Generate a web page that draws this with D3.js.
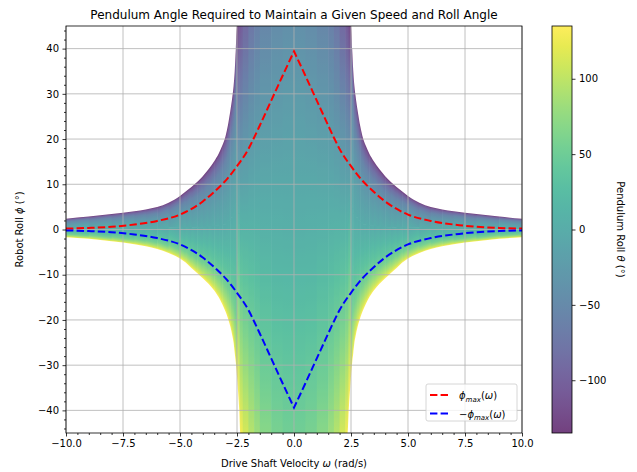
<!DOCTYPE html>
<html>
<head>
<meta charset="utf-8">
<script src="https://cdn.jsdelivr.net/npm/d3@7"></script>
<style>
  body { margin: 0; background: #fff; }
  svg text { font-family: "DejaVu Sans", sans-serif; fill: #000; }
</style>
</head>
<body>
<div class="visual"></div>
<script>
// heatmap columns, read for omega >= 0 (the figure is mirror symmetric in omega)
const omegaCols = [0, 0.5, 1, 1.5, 1.75, 2, 2.25, 2.35, 2.4, 2.45,
  2.5, 2.55, 2.6, 2.65, 2.7, 2.8, 2.9, 3.0, 3.15, 3.3, 3.5, 3.75,
  4, 4.25, 4.5, 4.75, 5, 5.5, 6, 6.5, 7, 8, 9, 10];
// top and bottom of the coloured span (deg of robot roll)
const spanHigh = [45, 45, 45, 45, 45, 45, 45, 45, 45, 45,
  45, 40, 35, 31.7, 29.5, 26, 23, 20.7, 18.5, 16.8, 15.1, 13.3,
  11.8, 10.5, 9.4, 8.4, 7.4, 5.9, 4.95, 4.45, 4.05, 3.4, 2.85, 2.37];
const spanLow = [-45, -45, -45, -45, -45, -45, -45, -45, -40, -36,
  -32.5, -29.5, -27.3, -25, -23.6, -21.3, -19.6, -18.2, -16.5, -15, -13.5, -12,
  -10.8, -9.6, -8.5, -7.3, -6.4, -5.2, -4.3, -3.7, -3.25, -2.6, -2.05, -1.7];
// pendulum angle at the top / bottom of that span
const thetaHigh = [-40, -42, -48, -58, -66, -80, -98, -108, -116, -124,
  -135, -135, -135, -135, -135, -135, -135, -135, -135, -135, -135, -135,
  -135, -135, -135, -135, -135, -135, -135, -135, -135, -135, -135, -135];
const thetaLow = [52, 55, 62, 76, 88, 102, 120, 135, 135, 135,
  135, 135, 135, 135, 135, 135, 135, 135, 135, 135, 135, 135,
  135, 135, 135, 135, 135, 135, 135, 135, 135, 135, 135, 135];
// where the span is bounded on both sides, theta across it (fraction from top)
const wingFrac = [0, 0.03, 0.08, 0.15, 0.25, 0.35, 0.5, 0.65, 0.75, 0.85, 0.92, 0.97, 1];
const wingTheta = [-135, -108, -82, -55, -35, -20, -2, 18, 35, 58, 85, 110, 135];

// phi_max(omega) curve, omega >= 0
const omegaCurve = [0, 0.5, 1, 1.5, 1.78, 2, 2.5, 3, 3.39, 4, 5, 6, 7, 8, 9, 10];
const phiMax = [39.4, 34, 28.5, 23, 20, 17.8, 14, 10.8, 8.85, 6.2, 3.3, 1.9, 1.1, 0.6, 0.35, 0.2];

const xTicks = [-10, -7.5, -5, -2.5, 0, 2.5, 5, 7.5, 10];
const yTicks = [-40, -30, -20, -10, 0, 10, 20, 30, 40];
const cbTicks = [-100, -50, 0, 50, 100];
const thetaRange = [-135, 135];

const W = 637, H = 472;
const pL = 66, pT = 26, pR = 522, pB = 433;

const svg = d3.select(".visual").append("svg")
  .attr("width", W).attr("height", H);
const defs = svg.append("defs");

const x = d3.scaleLinear().domain([-10, 10]).range([pL, pR]);
const y = d3.scaleLinear().domain([-45, 45]).range([pB, pT]);
const color = d3.scaleSequential(d3.interpolateViridis).domain(thetaRange);

// mirror the half columns
function mirror(arr, neg) {
  const l = arr.slice(1).reverse().map(v => neg ? -v : v);
  return l.concat(arr);
}
const om = mirror(omegaCols, true);
const hi = mirror(spanHigh), lo = mirror(spanLow);
const thHi = mirror(thetaHigh), thLo = mirror(thetaLow);

const area = d3.area()
  .x((d, i) => x(om[i]))
  .y0((d, i) => y(lo[i]))
  .y1((d, i) => y(hi[i]))
  .curve(d3.curveMonotoneX);

defs.append("clipPath").attr("id", "span")
  .append("path").attr("d", area(om));

const cells = d3.range(om.length - 1).map(i => ({
  x0: om[i], x1: om[i + 1],
  hi0: hi[i], hi1: hi[i + 1], lo0: lo[i], lo1: lo[i + 1],
  hi: (hi[i] + hi[i + 1]) / 2, lo: (lo[i] + lo[i + 1]) / 2,
  tHi: (thHi[i] + thHi[i + 1]) / 2, tLo: (thLo[i] + thLo[i + 1]) / 2
}));

const heat = svg.append("g")
  .attr("clip-path", "url(#span)")
  .attr("opacity", 0.75);

cells.forEach((c, i) => {
  const wing = c.tHi <= -135 && c.tLo >= 135;
  const stops = wing
    ? wingFrac.map((f, k) => [f, wingTheta[k]])
    : d3.range(9).map(k => [k / 8, c.tHi + (c.tLo - c.tHi) * k / 8]);
  const xa = x(c.x0), xb = x(c.x1), xc = (xa + xb) / 2;
  const slopeTop = (y(c.hi1) - y(c.hi0)) / (xb - xa);
  const slopeBot = (y(c.lo1) - y(c.lo0)) / (xb - xa);
  const yMid = y((c.hi + c.lo) / 2);

  [["t", slopeTop, pT, yMid], ["b", slopeBot, yMid, pB]].forEach(([k, s, ya, yb]) => {
    const id = `cg${k}${i}`;
    const g = defs.append("linearGradient").attr("id", id)
      .attr("gradientUnits", "userSpaceOnUse")
      .attr("x1", xc).attr("x2", xc)
      .attr("y1", y(c.hi)).attr("y2", y(c.lo))
      .attr("gradientTransform",
        `translate(${xc},0) skewY(${Math.atan(s) * 180 / Math.PI}) translate(${-xc},0)`);
    stops.forEach(([o, t]) => {
      g.append("stop").attr("offset", o).attr("stop-color", color(t));
    });
    heat.append("rect")
      .attr("x", xa).attr("width", xb - xa + 0.6)
      .attr("y", ya - 0.3).attr("height", yb - ya + 0.6)
      .attr("fill", `url(#${id})`);
  });
});

// grid
const grid = svg.append("g").attr("stroke", "#b0b0b0").attr("stroke-width", 0.8);
grid.selectAll(".gx").data(xTicks).enter().append("line")
  .attr("x1", d => x(d)).attr("x2", d => x(d)).attr("y1", pT).attr("y2", pB);
grid.selectAll(".gy").data(yTicks).enter().append("line")
  .attr("y1", d => y(d)).attr("y2", d => y(d)).attr("x1", pL).attr("x2", pR);

// phi_max curves
const line = d3.line().x(d => x(d[0])).y(d => y(d[1])).curve(d3.curveMonotoneX);
function curvePath(sign) {
  const rightHalf = omegaCurve.map((w, i) => [w, sign * phiMax[i]]);
  const leftHalf = omegaCurve.map((w, i) => [-w, sign * phiMax[i]]).reverse();
  return line(leftHalf) + line(rightHalf).replace("M", "L");
}
svg.append("path").attr("d", curvePath(1))
  .attr("fill", "none").attr("stroke", "red").attr("stroke-width", 2)
  .attr("stroke-dasharray", "7.4,3.2");
svg.append("path").attr("d", curvePath(-1))
  .attr("fill", "none").attr("stroke", "blue").attr("stroke-width", 2)
  .attr("stroke-dasharray", "7.4,3.2");

// axes
const xMinor = d3.range(-10, 10.01, 0.5).filter(v => !xTicks.includes(v));
const yMinor = d3.range(-44, 45, 2).filter(v => v % 10 !== 0);

svg.append("g").attr("transform", `translate(0,${pB})`)
  .call(d3.axisBottom(x).tickValues(xTicks).tickFormat(d3.format(".1f")).tickSize(3.5).tickPadding(3.5));
svg.append("g").attr("transform", `translate(0,${pB})`)
  .call(d3.axisBottom(x).tickValues(xMinor).tickFormat("").tickSize(2));
svg.append("g").attr("transform", `translate(${pL},0)`)
  .call(d3.axisLeft(y).tickValues(yTicks).tickSize(3.5).tickPadding(3.5));
svg.append("g").attr("transform", `translate(${pL},0)`)
  .call(d3.axisLeft(y).tickValues(yMinor).tickFormat("").tickSize(2));
svg.selectAll(".domain").remove();
svg.selectAll(".tick line").attr("stroke", "#000").attr("stroke-width", 0.8);
svg.selectAll(".tick text").style("font-size", "10px").style("font-family", "DejaVu Sans");

svg.append("rect").attr("x", pL).attr("y", pT)
  .attr("width", pR - pL).attr("height", pB - pT)
  .attr("fill", "none").attr("stroke", "#000").attr("stroke-width", 0.8);

// title and labels
svg.append("text").attr("x", (pL + pR) / 2).attr("y", 19)
  .attr("text-anchor", "middle").style("font-size", "12px")
  .text("Pendulum Angle Required to Maintain a Given Speed and Roll Angle");

const xl = svg.append("text").attr("x", (pL + pR) / 2).attr("y", 467)
  .attr("text-anchor", "middle").style("font-size", "10px");
xl.append("tspan").text("Drive Shaft Velocity ");
xl.append("tspan").attr("font-style", "italic").text("ω");
xl.append("tspan").text(" (rad/s)");

const yl = svg.append("text")
  .attr("transform", `translate(23,${(pT + pB) / 2}) rotate(-90)`)
  .attr("text-anchor", "middle").style("font-size", "10px");
yl.append("tspan").text("Robot Roll ");
yl.append("tspan").attr("font-style", "italic").text("ϕ");
yl.append("tspan").text(" (°)");

// legend
const lg = svg.append("g");
lg.append("rect").attr("x", 426).attr("y", 384).attr("width", 91).attr("height", 37)
  .attr("rx", 2).attr("fill", "#fff").attr("fill-opacity", 0.8)
  .attr("stroke", "#cccccc").attr("stroke-width", 0.8);
[["red", "", 395], ["blue", "−", 413.5]].forEach(([c, pre, ly]) => {
  lg.append("line").attr("x1", 430).attr("x2", 450).attr("y1", ly).attr("y2", ly)
    .attr("stroke", c).attr("stroke-width", 2).attr("stroke-dasharray", "7.4,3.2");
  const t = lg.append("text").attr("x", 459).attr("y", ly + 4).style("font-size", "10px");
  if (pre) t.append("tspan").text(pre);
  t.append("tspan").attr("font-style", "italic").text("ϕ");
  t.append("tspan").attr("font-style", "italic").attr("dy", 2.5).style("font-size", "7px").text("max");
  t.append("tspan").attr("dy", -2.5).text("(");
  t.append("tspan").attr("font-style", "italic").text("ω");
  t.append("tspan").text(")");
});

// colorbar
const cbL = 552, cbR = 572;
const cbY = d3.scaleLinear().domain(thetaRange).range([pB, pT]);
const cg = defs.append("linearGradient").attr("id", "cbar")
  .attr("x1", 0).attr("x2", 0).attr("y1", 1).attr("y2", 0);
d3.range(21).forEach(k => {
  cg.append("stop").attr("offset", k / 20).attr("stop-color", d3.interpolateViridis(k / 20));
});
svg.append("rect").attr("x", cbL).attr("y", pT)
  .attr("width", cbR - cbL).attr("height", pB - pT)
  .attr("fill", "url(#cbar)").attr("fill-opacity", 0.75);
svg.append("rect").attr("x", cbL).attr("y", pT)
  .attr("width", cbR - cbL).attr("height", pB - pT)
  .attr("fill", "none").attr("stroke", "#000").attr("stroke-width", 0.8);
const cbAxis = svg.append("g").attr("transform", `translate(${cbR},0)`)
  .call(d3.axisRight(cbY).tickValues(cbTicks).tickSize(3.5).tickPadding(3.5));
cbAxis.select(".domain").remove();
cbAxis.selectAll(".tick line").attr("stroke", "#000").attr("stroke-width", 0.8);
cbAxis.selectAll(".tick text").style("font-size", "10px").style("font-family", "DejaVu Sans");

const cl = svg.append("text")
  .attr("transform", `translate(617,${(pT + pB) / 2}) rotate(90)`)
  .attr("text-anchor", "middle").style("font-size", "10px");
cl.append("tspan").text("Pendulum Roll ");
cl.append("tspan").attr("font-style", "italic").text("θ");
cl.append("tspan").text(" (°)");
</script>
</body>
</html>
